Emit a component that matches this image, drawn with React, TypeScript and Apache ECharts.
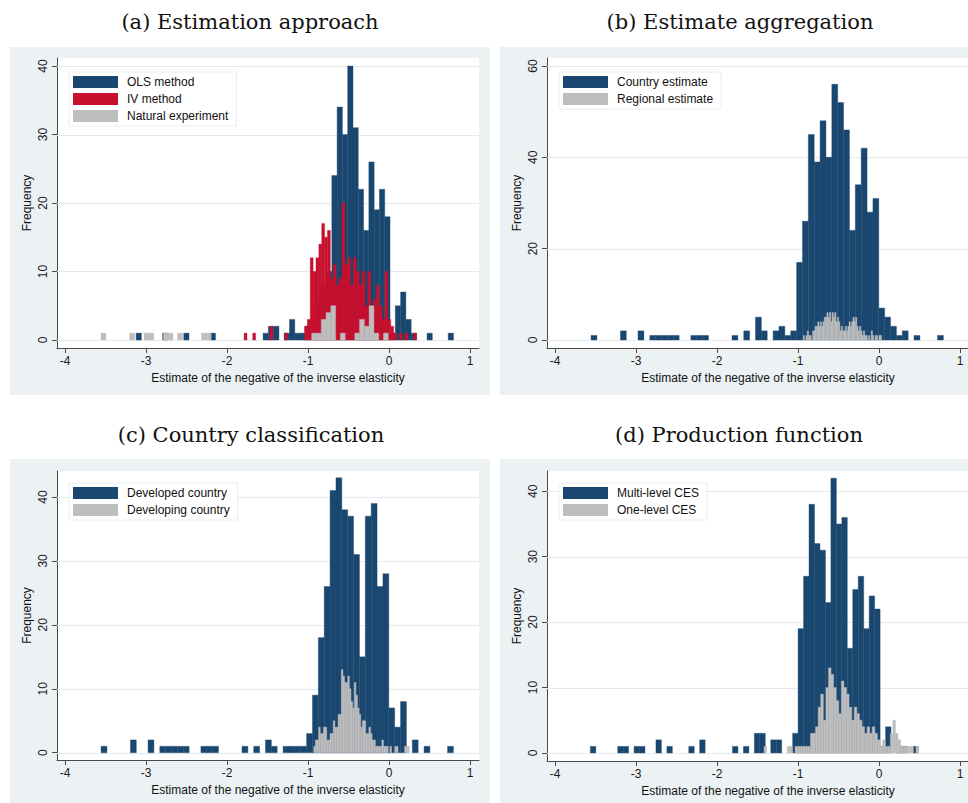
import React, { useEffect, useRef } from "react";
import * as echarts from "echarts";

// ---------- text ----------
const panelTitles = [
  "(a) Estimation approach",
  "(b) Estimate aggregation",
  "(c) Country classification",
  "(d) Production function",
];
const xAxisTitle = "Estimate of the negative of the inverse elasticity";
const yAxisTitle = "Frequency";

// ---------- ticks ----------
const xTickValues = [-4, -3, -2, -1, 0, 1];
const yTicksA = [0, 10, 20, 30, 40];
const yTicksB = [0, 20, 40, 60];
const yTicksC = [0, 10, 20, 30, 40];
const yTicksD = [0, 10, 20, 30, 40];

// ---------- (a) Estimation approach : 60 bins each ----------
const olsStart = -3.123;
const olsWidth = 0.0653;
const olsCounts = [
  1, 0, 0, 0, 0, 1, 0, 0, 0, 1,
  0, 0, 0, 0, 1, 0, 0, 0, 0, 0,
  0, 0, 0, 0, 1, 2, 2, 0, 1, 3,
  1, 1, 2, 3, 6, 8, 10, 24, 34, 30,
  40, 31, 22, 16, 26, 19, 22, 18, 1, 5,
  7, 3, 1, 0, 0, 1, 0, 0, 0, 1,
];
const ivStart = -1.79;
const ivWidth = 0.0355;
const ivCounts = [
  1, 0, 0, 1, 0, 0, 0, 0, 0, 2,
  0, 0, 0, 0, 1, 0, 0, 0, 0, 0,
  0, 2, 3, 12, 10, 12, 14, 17, 15, 16,
  9, 11, 8, 9, 20, 11, 12, 8, 12, 10,
  8, 10, 5, 10, 4, 6, 8, 5, 3, 10,
  3, 2, 1, 0, 1, 0, 1, 0, 0, 1,
];
const natStart = -3.556;
const natWidth = 0.0591;
const natCounts = [
  1, 0, 0, 0, 0, 0, 1, 0, 0, 1,
  1, 0, 0, 1, 1, 0, 1, 0, 0, 0,
  0, 1, 1, 0, 0, 0, 0, 0, 0, 0,
  0, 0, 0, 0, 0, 0, 0, 0, 0, 0,
  0, 0, 0, 0, 1, 1, 3, 4, 5, 0,
  1, 0, 0, 1, 3, 2, 5, 1, 0, 1,
];

// ---------- (b) Estimate aggregation ----------
const countryStart = -3.556;
const countryWidth = 0.0725;
const countryCounts = [
  1, 0, 0, 0, 0, 2, 0, 0, 2, 0,
  1, 1, 1, 1, 1, 0, 0, 1, 1, 1,
  0, 0, 0, 0, 1, 0, 2, 0, 5, 2,
  0, 2, 3, 1, 2, 17, 26, 45, 39, 48,
  40, 56, 52, 46, 24, 34, 42, 28, 31, 7,
  5, 3, 1, 2, 0, 1, 0, 0, 0, 1,
];
const regionalStart = -0.935;
const regionalWidth = 0.0161;
const regionalCounts = [
  1, 0, 1, 2, 1, 1, 0, 2, 2, 3,
  3, 4, 3, 4, 3, 4, 5, 5, 6, 5,
  6, 4, 6, 5, 6, 4, 5, 4, 2, 3,
  2, 2, 3, 2, 3, 4, 3, 4, 5, 4,
  5, 3, 2, 3, 2, 1, 2, 1, 1, 0,
  1, 0, 2, 1, 0, 1, 1, 0, 1, 1,
];

// ---------- (c) Country classification ----------
const developedStart = -3.556;
const developedWidth = 0.0725;
const developedCounts = [
  1, 0, 0, 0, 0, 2, 0, 0, 2, 0,
  1, 1, 1, 1, 1, 0, 0, 1, 1, 1,
  0, 0, 0, 0, 1, 0, 1, 0, 2, 1,
  0, 1, 1, 1, 1, 3, 9, 18, 26, 41,
  43, 38, 37, 31, 15, 37, 39, 26, 28, 7,
  4, 8, 0, 2, 0, 1, 0, 0, 0, 1,
];
const developingStart = -0.95;
const developingWidth = 0.02;
const developingCounts = [
  0, 1, 2, 2, 4, 3, 3, 4, 4, 2,
  2, 3, 3, 5, 4, 4, 6, 6, 13, 12,
  11, 11, 12, 10, 8, 7, 11, 9, 7, 6,
  4, 5, 5, 3, 3, 4, 3, 2, 2, 1,
  1, 1, 1, 2, 1, 1, 1, 0, 1, 0,
  0, 1, 1, 0, 0, 0, 0, 1, 1, 1,
];

// ---------- (d) Production function ----------
const multiStart = -3.565;
const multiWidth = 0.0675;
const multiCounts = [
  1, 0, 0, 0, 0, 1, 1, 0, 1, 1,
  0, 0, 2, 0, 1, 0, 0, 0, 1, 0,
  2, 0, 0, 0, 0, 0, 1, 0, 1, 0,
  3, 3, 0, 2, 2, 0, 0, 3, 19, 27,
  38, 32, 31, 23, 42, 35, 36, 16, 25, 27,
  19, 24, 22, 1, 4, 0, 1, 1, 0, 1,
];
const oneStart = -1.42;
const oneWidth = 0.0318;
const oneCounts = [
  1, 0, 0, 0, 0, 0, 0, 0, 0, 1,
  1, 0, 1, 1, 1, 1, 1, 1, 3, 3,
  4, 7, 9, 5, 10, 13, 12, 10, 8, 6,
  11, 10, 9, 7, 5, 7, 6, 5, 4, 3,
  4, 3, 4, 3, 2, 1, 2, 1, 1, 3,
  5, 3, 2, 1, 1, 1, 1, 1, 0, 1,
];

// ---------- styling ----------
const NAVY = "#1a476f";
const RED = "#c8102e";
const GRAY = "#bebebe";
const OUTER_BG = "#ecf1f4";
const GRID_LINE = "#e4eaee";
const AXIS = "#4a4a4a";
const SANS = "'Liberation Sans', Arial, sans-serif";
const SERIF = "'DejaVu Serif', serif";
const X_MIN = -4.1;
const X_MAX = 1.11;

function toBins(start: number, width: number, counts: number[]) {
  const out: number[][] = [];
  counts.forEach((c, i) => {
    if (c > 0) out.push([start + i * width, start + (i + 1) * width, c]);
  });
  return out;
}

function histSeries(name: string, color: string, idx: number, data: number[][]) {
  return {
    type: "custom",
    name,
    coordinateSystem: "cartesian2d",
    xAxisIndex: idx,
    yAxisIndex: idx,
    dimensions: ["x0", "x1", "count"],
    encode: { x: [0, 1], y: 2 },
    itemStyle: { color },
    z: 3,
    silent: true,
    clip: true,
    data,
    renderItem: (params: any, api: any) => {
      const x0 = api.value(0);
      const x1 = api.value(1);
      const c = api.value(2);
      const p0 = api.coord([x0, c]);
      const p1 = api.coord([x1, 0]);
      return {
        type: "rect",
        shape: { x: p0[0], y: p0[1], width: p1[0] - p0[0], height: p1[1] - p0[1] },
        style: { fill: color, stroke: color, lineWidth: 0.4 },
      };
    },
  };
}

// horizontal grid lines at the major y ticks, drawn beneath the bars
function gridLineSeries(idx: number, ticks: number[]) {
  return {
    type: "custom",
    coordinateSystem: "cartesian2d",
    xAxisIndex: idx,
    yAxisIndex: idx,
    z: 1,
    silent: true,
    encode: { x: [0, 2], y: 1 },
    data: ticks.map((v) => [X_MIN, v, X_MAX]),
    renderItem: (params: any, api: any) => {
      const a = api.coord([api.value(0), api.value(1)]);
      const b = api.coord([api.value(2), api.value(1)]);
      const y = Math.round(a[1]) + 0.5;
      return {
        type: "line",
        shape: { x1: a[0], y1: y, x2: b[0], y2: y },
        style: { stroke: GRID_LINE, lineWidth: 1 },
      };
    },
  };
}

const grids = [
  { left: 57, top: 58, width: 422, height: 290 },
  { left: 547, top: 58, width: 422, height: 290 },
  { left: 57, top: 471, width: 422, height: 289 },
  { left: 547, top: 471, width: 422, height: 290 },
];
const yRanges = [
  [-1.17, 41.17],
  [-1.75, 61.75],
  [-1.14, 44.07],
  [-1.23, 43.1],
];
const yTickSets = [yTicksA, yTicksB, yTicksC, yTicksD];

export default function App() {
  const ref = useRef<HTMLDivElement>(null);

  useEffect(() => {
    if (!ref.current) return;
    const chart = echarts.init(ref.current, undefined, { renderer: "svg" });

    const xAxes = grids.map((_, i) => ({
      gridIndex: i,
      type: "value",
      min: X_MIN,
      max: X_MAX,
      axisLine: { show: true, onZero: false, lineStyle: { color: AXIS, width: 1 } },
      axisTick: { show: true, length: 5, customValues: xTickValues, lineStyle: { color: AXIS } },
      axisLabel: {
        customValues: xTickValues,
        fontSize: 12,
        fontFamily: SANS,
        color: "#1a1a1a",
        margin: 7,
      },
      splitLine: { show: false },
      name: xAxisTitle,
      nameLocation: "middle",
      nameGap: 24,
      nameTextStyle: { fontSize: 12, fontFamily: SANS, color: "#111", padding: [0, 0, 0, 20] },
    }));

    const yAxes = grids.map((_, i) => ({
      gridIndex: i,
      type: "value",
      min: yRanges[i][0],
      max: yRanges[i][1],
      axisLine: { show: true, onZero: false, lineStyle: { color: AXIS, width: 1 } },
      axisTick: { show: true, length: 5, customValues: yTickSets[i], lineStyle: { color: AXIS } },
      axisLabel: {
        customValues: yTickSets[i],
        rotate: 90,
        fontSize: 12,
        fontFamily: SANS,
        color: "#1a1a1a",
        margin: 8,
      },
      splitLine: { show: false },
      name: yAxisTitle,
      nameLocation: "middle",
      nameRotate: 90,
      nameGap: 24,
      nameTextStyle: { fontSize: 12, fontFamily: SANS, color: "#111" },
    }));

    const series = [
      gridLineSeries(0, yTicksA),
      gridLineSeries(1, yTicksB),
      gridLineSeries(2, yTicksC),
      gridLineSeries(3, yTicksD),
      histSeries("OLS method", NAVY, 0, toBins(olsStart, olsWidth, olsCounts)),
      histSeries("IV method", RED, 0, toBins(ivStart, ivWidth, ivCounts)),
      histSeries("Natural experiment", GRAY, 0, toBins(natStart, natWidth, natCounts)),
      histSeries("Country estimate", NAVY, 1, toBins(countryStart, countryWidth, countryCounts)),
      histSeries("Regional estimate", GRAY, 1, toBins(regionalStart, regionalWidth, regionalCounts)),
      histSeries("Developed country", NAVY, 2, toBins(developedStart, developedWidth, developedCounts)),
      histSeries("Developing country", GRAY, 2, toBins(developingStart, developingWidth, developingCounts)),
      histSeries("Multi-level CES", NAVY, 3, toBins(multiStart, multiWidth, multiCounts)),
      histSeries("One-level CES", GRAY, 3, toBins(oneStart, oneWidth, oneCounts)),
    ];

    const legendNames = [
      ["OLS method", "IV method", "Natural experiment"],
      ["Country estimate", "Regional estimate"],
      ["Developed country", "Developing country"],
      ["Multi-level CES", "One-level CES"],
    ];
    const legendPos = [
      { left: 69, top: 72 },
      { left: 559, top: 72 },
      { left: 69, top: 483 },
      { left: 559, top: 483 },
    ];
    const legends = legendNames.map((names, i) => ({
      ...legendPos[i],
      orient: "vertical",
      selectedMode: false,
      data: names.map((n) => ({ name: n, icon: "rect" })),
      itemWidth: 45,
      itemHeight: 12,
      itemGap: 5,
      padding: [4, 8, 4, 4],
      backgroundColor: "#ffffff",
      borderColor: "#e9ecee",
      borderWidth: 1,
      textStyle: { fontSize: 12, fontFamily: SANS, color: "#111", padding: [0, 0, 0, 4] },
    }));

    const bgRects = [
      { x: 10, y: 47, w: 480, h: 348 },
      { x: 500, y: 47, w: 470, h: 348 },
      { x: 10, y: 459, w: 480, h: 346 },
      { x: 500, y: 459, w: 470, h: 346 },
    ].map((r) => ({
      type: "rect",
      z: -10,
      silent: true,
      shape: { x: r.x, y: r.y, width: r.w, height: r.h },
      style: { fill: OUTER_BG },
    }));

    const titlePos = [
      [250, 22],
      [740, 22],
      [251, 435],
      [739, 435],
    ];
    const titles = panelTitles.map((t, i) => ({
      type: "text",
      x: titlePos[i][0],
      y: titlePos[i][1],
      silent: true,
      style: {
        text: t,
        fill: "#111",
        fontSize: 21,
        fontFamily: SERIF,
        align: "center",
        verticalAlign: "middle",
        textAlign: "center",
        textVerticalAlign: "middle",
      },
    }));

    chart.setOption({
      animation: false,
      backgroundColor: "#ffffff",
      grid: grids.map((g) => ({
        ...g,
        show: true,
        backgroundColor: "#ffffff",
        borderWidth: 0,
        containLabel: false,
        outerBoundsMode: "none",
      })),
      xAxis: xAxes,
      yAxis: yAxes,
      legend: legends,
      graphic: { elements: [...bgRects, ...titles] },
      series,
    } as any);

    return () => chart.dispose();
  }, []);

  return (
    <div
      ref={ref}
      style={{ position: "fixed", left: 0, top: 0, width: 968, height: 803 }}
    />
  );
}
